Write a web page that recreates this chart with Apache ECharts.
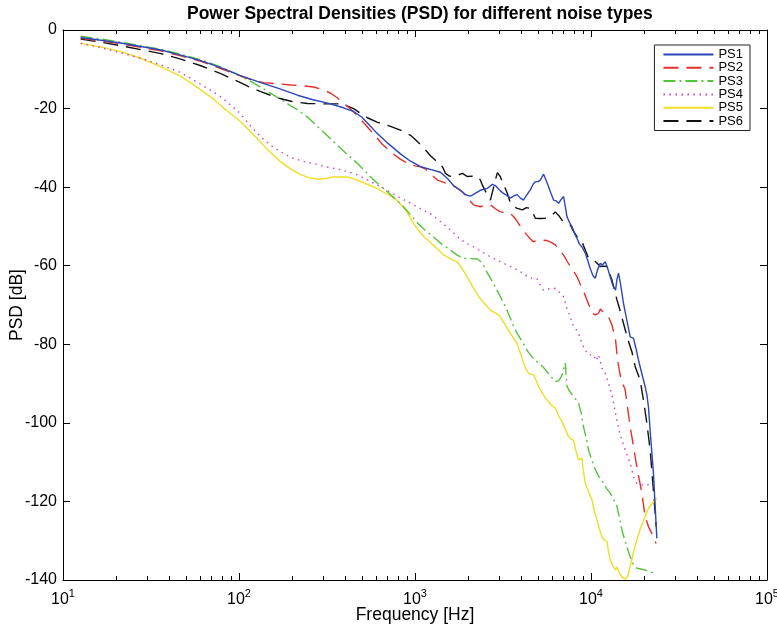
<!DOCTYPE html>
<html>
<head>
<meta charset="utf-8" />
<title>PSD</title>
<script src="https://cdn.jsdelivr.net/npm/echarts@6/dist/echarts.min.js"></script>
<style>
    html, body { margin: 0; padding: 0; background: #fff; }
    #main { width: 777px; height: 626px; }
</style>
</head>
<body>
<div id="main"></div>
<script>
// series names and colours
var names = ['PS1', 'PS2', 'PS3', 'PS4', 'PS5', 'PS6'];

// [frequency Hz, PSD dB]
var ps1 = [[12.6,-1.9],[16.4,-2.6],[21.3,-3.3],[27.7,-4.2],[36,-5.1],[46.7,-6.4],[60.7,-7.8],[78.8,-9.6],[102,-11.6],[133,-13.4],[166,-14.8],[215,-16.6],[260,-17.7],[319,-18.6],[393,-19.8],[450,-20.8],[500,-22.2],[540,-23.8],[600,-26],[700,-28.8],[830,-31.6],[943,-33.4],[1075,-34.8],[1250,-35.6],[1395,-36.2],[1530,-37.8],[1653,-39.6],[1812,-40.8],[1950,-42],[2065,-42.3],[2200,-41.6],[2352,-40.8],[2580,-40.3],[2750,-39.3],[2862,-39.6],[3000,-40.6],[3140,-41.4],[3350,-42.2],[3480,-42.8],[3650,-42.2],[3800,-41.9],[3970,-42.8],[4130,-43.3],[4350,-41.8],[4520,-40.7],[4700,-39.2],[4830,-38.6],[5000,-38.6],[5150,-38.2],[5380,-36.7],[5550,-38.2],[5740,-39.9],[5950,-41.8],[6130,-43.3],[6350,-43.5],[6550,-44.1],[6800,-43],[6990,-42.4],[7150,-45],[7300,-47.5],[7550,-49],[7800,-50.1],[8100,-52],[8320,-53],[8600,-54.5],[8880,-55.2],[9280,-56.8],[9600,-58.8],[9900,-60.7],[10250,-62.5],[10570,-63.2],[10900,-61],[11290,-59.4],[11600,-59.8],[12050,-59],[12400,-60.5],[12860,-62.8],[13300,-65],[13790,-66.2],[14040,-63.5],[14330,-61.9],[14700,-64.5],[15300,-69.6],[16000,-74],[16700,-78.1],[17440,-78.5],[18000,-81],[18610,-84],[19450,-87.5],[19870,-89.1],[20310,-90.8],[20800,-93],[21200,-95.9],[21880,-104.4],[22640,-112.8],[23150,-121.3],[23670,-129.4]];

var ps2 = [[12.6,-2.1],[16.4,-2.8],[21.3,-3.5],[27.7,-4.4],[36,-5.3],[46.7,-6.6],[60.7,-8],[78.8,-9.8],[102,-11.7],[120,-12.8],[138,-13.4],[166,-13.7],[197,-14],[230,-14.2],[265,-14.5],[300,-15.2],[332,-16.1],[363,-17.3],[393,-18.6],[430,-20.1],[472,-21.9],[520,-24],[580,-26.4],[650,-29],[726,-31],[820,-32.8],[907,-33.9],[1000,-34.6],[1075,-34.8],[1150,-35.4],[1224,-36.6],[1342,-38.2],[1500,-39],[1653,-39.6],[1860,-41.2],[2000,-43],[2150,-44.5],[2352,-45],[2500,-44.6],[2681,-44.5],[2862,-45.5],[3055,-46.3],[3300,-46.5],[3483,-46.7],[3650,-47.6],[3815,-48.8],[3970,-50],[4200,-51.5],[4406,-52.6],[4700,-53.9],[4955,-53.5],[5300,-53.5],[5624,-53.6],[5900,-54],[6268,-54.7],[6600,-56],[6986,-57.3],[7300,-58.8],[7624,-60.2],[8000,-61.5],[8322,-62.8],[8600,-64.2],[8882,-65.8],[9200,-67.2],[9485,-68.7],[9800,-70.4],[10125,-72.1],[10600,-72.5],[11036,-72.1],[11300,-71],[11539,-71.3],[12000,-72.3],[12578,-73],[13150,-75.1],[13790,-78.9],[14150,-84],[14600,-87.5],[14985,-89.9],[15300,-90.5],[15640,-91.6],[16000,-95],[16700,-101],[17440,-106.1],[18222,-111.2],[19454,-117.9],[20310,-123.9],[21205,-126.4],[22640,-129],[23450,-130.7]];

var ps3 = [[12.6,-1.6],[16.4,-2.3],[21.3,-3.1],[27.7,-4],[36,-4.9],[46.7,-6.2],[60.7,-7.6],[78.8,-9.4],[102,-11.7],[120,-13.4],[138,-15],[166,-17.2],[197,-19.3],[215,-20.3],[250,-22.5],[280,-24.6],[319,-27],[363,-29.4],[410,-31.6],[472,-34],[530,-36.3],[582,-38.2],[640,-39.8],[698,-41.2],[780,-43.2],[861,-45],[950,-47.2],[1033,-49.1],[1130,-50.8],[1274,-52.7],[1420,-54.5],[1590,-56],[1735,-57.3],[1885,-58.1],[2070,-58.2],[2262,-58.3],[2415,-59.3],[2578,-61.9],[2750,-64],[2938,-66.4],[3150,-69],[3349,-71.5],[3622,-75.3],[3815,-77.3],[4127,-79.8],[4400,-82],[4700,-83.6],[5040,-84.8],[5350,-85.8],[5624,-87],[5950,-88.3],[6268,-89.5],[6500,-89.3],[6692,-88.7],[6850,-87.8],[6986,-86.5],[7143,-84.8],[7230,-88],[7303,-90.8],[7624,-92.2],[7960,-93.3],[8497,-95],[8800,-97.5],[9070,-101],[9400,-104],[9685,-106.9],[10200,-110],[10808,-112.8],[11300,-114.3],[11784,-115.4],[12300,-116.8],[12860,-117.9],[13450,-119.5],[14040,-121.3],[14500,-124],[14985,-127.3],[15500,-129.6],[15996,-131.5],[16500,-133.5],[17075,-135.3],[17600,-136.4],[18222,-137],[19200,-137.2],[20310,-137.5],[21700,-137.9],[23150,-138.3]];

var ps4 = [[12.6,-3.4],[16.4,-4.5],[21.3,-5.8],[27.7,-7.2],[36,-8.9],[46.7,-10.8],[55.4,-12.8],[66,-14.8],[78.8,-17],[90,-19.2],[102,-21.3],[117,-24.6],[133,-27.2],[151,-29.3],[166,-30.5],[185,-31.8],[205,-32.7],[235,-33.5],[265,-34],[310,-34.8],[363,-35.4],[420,-36.1],[472,-36.9],[540,-38.2],[613,-39.5],[680,-40.6],[755,-41.8],[850,-43],[943,-44.1],[1075,-45.5],[1224,-46.8],[1400,-48.8],[1590,-50.9],[1812,-53.3],[2000,-54.5],[2150,-55.2],[2350,-56.2],[2570,-57.3],[2850,-58.3],[3190,-59.4],[3550,-60.4],[3970,-61.5],[4300,-62.6],[4720,-63.4],[4935,-63.4],[5153,-64.9],[5360,-66.2],[5500,-66.6],[5700,-66],[5871,-65.8],[6268,-65.8],[6692,-67],[6986,-67.9],[7303,-70.9],[7624,-73],[7795,-74.7],[8139,-75.9],[8497,-77.2],[8882,-79.8],[9277,-81.5],[9685,-82.7],[10339,-82.7],[10700,-84.2],[11036,-82.7],[11539,-86.1],[12048,-87.4],[12578,-89.9],[13150,-92.9],[13790,-97.6],[14330,-101.4],[14985,-104.4],[15640,-106.9],[16700,-110.3],[17437,-113.7],[18222,-115.4],[19454,-115.8],[20765,-115.8],[22170,-115.4],[23450,-114.5]];

var ps5 = [[12.6,-3.4],[16.4,-4.3],[21.3,-5.5],[27.7,-7.2],[36,-9.4],[46.7,-11.8],[55.4,-14],[63,-15.8],[71.9,-17.6],[80,-19.5],[89.8,-21.3],[102,-23.3],[117,-26],[133,-28.6],[151,-31.2],[172,-33.5],[197,-35.4],[224,-36.8],[250,-37.6],[280,-38],[310,-37.8],[345,-37.4],[414,-37.4],[470,-38.2],[530,-39.2],[600,-40.2],[663,-41.3],[730,-42.3],[796,-43.5],[860,-45.2],[907,-46.6],[960,-48.5],[1033,-50.7],[1120,-52.5],[1224,-54.1],[1330,-55.6],[1451,-57.2],[1600,-58.3],[1735,-59],[1850,-60.7],[1978,-62.8],[2130,-65.4],[2301,-67.9],[2500,-69.8],[2681,-71.3],[2850,-72],[2989,-72.5],[3150,-74],[3336,-75.9],[3550,-77.8],[3801,-79.8],[3950,-82],[4143,-84.8],[4300,-86.6],[4423,-87.4],[4721,-87.8],[4880,-89.3],[5040,-90.8],[5300,-92.5],[5624,-94.2],[5950,-95.5],[6268,-96.3],[6550,-98.2],[6843,-99.7],[7150,-101.6],[7459,-103.5],[7700,-104.2],[7960,-104.4],[8200,-107],[8497,-109.5],[8700,-109.3],[8882,-109],[9070,-112.5],[9277,-115.4],[9700,-117.6],[10125,-119.6],[10450,-122.5],[10808,-124.7],[11150,-127],[11539,-129],[11900,-129.8],[12318,-130.2],[12580,-132.8],[12860,-134.9],[13300,-136.3],[13790,-137.5],[14040,-136.7],[14330,-137],[14650,-138.6],[14985,-139.2],[15300,-138.7],[15640,-139.8],[15850,-140],[16200,-139],[16700,-136.6],[17400,-133],[18222,-129.8],[19200,-126.5],[20310,-123.9],[21200,-121.8],[22170,-120.5],[23665,-119.2]];

var ps6 = [[12.6,-2.3],[16.4,-3.1],[21.3,-4],[27.7,-5],[36,-6],[46.7,-7.4],[60.7,-9.1],[78.8,-11.1],[89.8,-12.3],[102,-13.4],[112,-14.3],[133,-15.7],[166,-17.3],[200,-18.2],[245,-18.7],[300,-18.8],[363,-18.8],[410,-19.3],[448,-20],[490,-21.2],[540,-22.4],[613,-23.5],[700,-24.3],[827,-25.5],[943,-26.8],[1000,-27.8],[1075,-29.2],[1150,-30.6],[1224,-32],[1310,-33.2],[1395,-34],[1450,-35.3],[1489,-36.5],[1570,-37.2],[1653,-37.3],[1760,-36.9],[1860,-36.5],[1986,-37.3],[2100,-37.2],[2262,-37.3],[2352,-38.2],[2415,-39.5],[2550,-41.6],[2681,-43.3],[2780,-40.5],[2862,-38.2],[2938,-36.3],[3050,-37.3],[3137,-38.6],[3250,-40.2],[3349,-41.6],[3483,-44],[3650,-45],[3815,-45.4],[4073,-45.8],[4300,-45.2],[4522,-45.4],[4700,-46.8],[4827,-47.9],[5150,-48],[5500,-47.9],[5750,-47.6],[6003,-47.1],[6268,-46.3],[6545,-47.2],[6843,-48.4],[7250,-49.2],[7624,-49.6],[7950,-51.2],[8322,-52.6],[8600,-53.3],[8882,-53.9],[9277,-56],[9685,-58.1],[10000,-58.4],[10339,-58.5],[10800,-59.3],[11286,-60.2],[11800,-60.1],[12318,-60.2],[12700,-61.8],[13150,-63.6],[13600,-66.2],[14040,-68.7],[14330,-70],[14800,-72.3],[15300,-74.7],[15800,-77],[16335,-79.3],[17075,-81.9],[17830,-85.7],[19025,-89.1],[19866,-94.2],[20765,-100.1],[21681,-106.9],[22460,-115.4],[23145,-123],[23450,-126.4]];

var seriesData = [ps1, ps2, ps3, ps4, ps5, ps6];
var colors = ['#2b48b8', '#e5302a', '#55c23e', '#c942c9', '#efde26', '#111111'];
var dashes = ['solid', [15, 8], [12, 4, 2, 4], [1.5, 4.5], 'solid', [15, 8]];

var font = 'Liberation Sans, Arial, Helvetica, sans-serif';

var myChart = echarts.init(document.getElementById('main'));

function expLabel(v) {
    var e = Math.round(Math.log(v) / Math.LN10);
    return '{b|10}{s|' + e + '}';
}

var series = [];
for (var i = 0; i < names.length; i++) {
    series.push({
        name: names[i],
        type: 'line',
        data: seriesData[i],
        symbol: 'none',
        showSymbol: false,
        clip: true,
        lineStyle: { color: colors[i], width: 1.4, type: dashes[i] },
        itemStyle: { color: colors[i] },
        z: 10 - i
    });
}

var xBase = {
    type: 'log',
    logBase: 10,
    min: 10,
    max: 100000,
    axisLine: { show: true, onZero: false, lineStyle: { color: '#000', width: 1 } },
    axisTick: { show: true, inside: true, length: 7, lineStyle: { color: '#000' } },
    minorTick: { show: true, splitNumber: 9, length: 4, lineStyle: { color: '#000' } },
    splitLine: { show: false },
    minorSplitLine: { show: false }
};
var yBase = {
    type: 'value',
    min: -140,
    max: 0,
    interval: 20,
    axisLine: { show: true, onZero: false, lineStyle: { color: '#000', width: 1 } },
    axisTick: { show: true, inside: true, length: 7, lineStyle: { color: '#000' } },
    splitLine: { show: false }
};

var option = {
    animation: false,
    backgroundColor: '#fff',
    textStyle: { fontFamily: font, color: '#000' },
    title: {
        text: 'Power Spectral Densities (PSD) for different noise types',
        left: 182,
        top: 0,
        textStyle: { fontFamily: font, fontWeight: 'bold', fontSize: 17.5, color: '#000' }
    },
    legend: {
        data: names,
        orient: 'vertical',
        right: 27,
        top: 45,
        itemWidth: 50,
        itemHeight: 13,
        itemGap: 0.3,
        padding: [3, 7, 3, 8],
        selectedMode: false,
        backgroundColor: '#fff',
        borderColor: '#222',
        borderWidth: 1,
        itemStyle: { opacity: 0 },
        textStyle: { fontFamily: font, fontSize: 13, color: '#000', lineHeight: 13 }
    },
    grid: { left: 63, right: 10, top: 30, bottom: 46, containLabel: false, outerBoundsMode: 'none' },
    xAxis: [
        Object.assign({}, xBase, {
            position: 'bottom',
            name: 'Frequency [Hz]',
            nameLocation: 'middle',
            nameGap: 26,
            nameMoveOverlap: false,
            nameTextStyle: { fontFamily: font, fontSize: 17.5, color: '#000' },
            axisLabel: {
                margin: 8,
                formatter: expLabel,
                rich: {
                    b: { fontFamily: font, fontSize: 16, color: '#000', verticalAlign: 'bottom' },
                    s: { fontFamily: font, fontSize: 11, color: '#000', verticalAlign: 'bottom', padding: [0, 0, 9, 0] }
                }
            }
        }),
        Object.assign({}, xBase, { position: 'top', axisLabel: { show: false } })
    ],
    yAxis: [
        Object.assign({}, yBase, {
            position: 'left',
            name: 'PSD [dB]',
            nameLocation: 'middle',
            nameGap: 37,
            nameMoveOverlap: false,
            nameRotate: 90,
            nameTextStyle: { fontFamily: font, fontSize: 17.5, color: '#000' },
            axisLabel: { margin: 6, fontFamily: font, fontSize: 16, color: '#000' }
        }),
        Object.assign({}, yBase, { position: 'right', axisLabel: { show: false } })
    ],
    series: series
};

myChart.setOption(option);
</script>
</body>
</html>
